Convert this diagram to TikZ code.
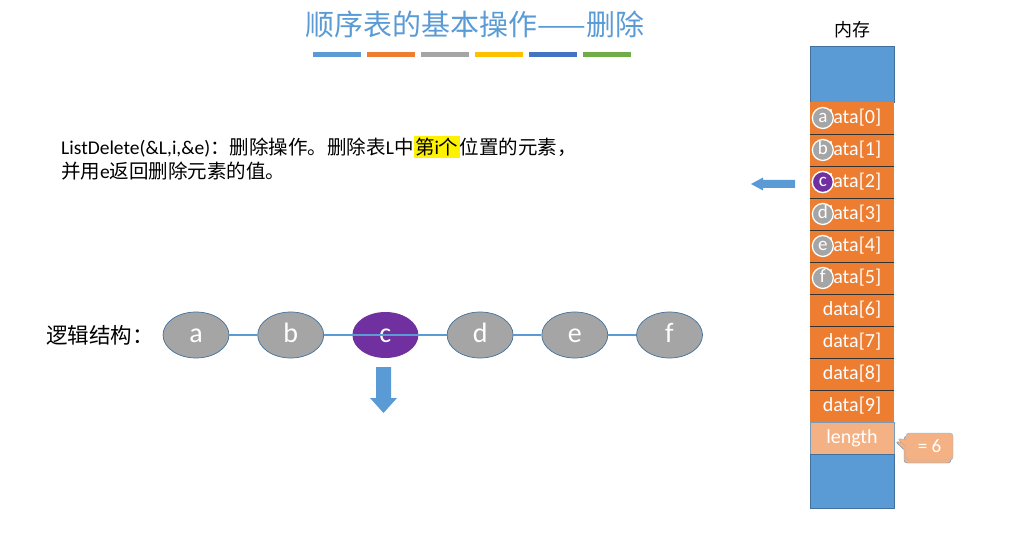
\documentclass[tikz,border=0pt]{standalone}
\usepackage{fontspec}
\setmainfont{Carlito}
\newfontfamily\cjk{Noto Sans CJK SC}
\usetikzlibrary{arrows.meta,positioning,shapes.geometric,shapes.callouts,shadows}
\definecolor{pptblue}{HTML}{5B9BD5}
\definecolor{pptorange}{HTML}{ED7D31}
\definecolor{pptgray}{HTML}{A5A5A5}
\definecolor{pptyellow}{HTML}{FFC000}
\definecolor{pptdarkblue}{HTML}{4472C4}
\definecolor{pptgreen}{HTML}{70AD47}
\definecolor{pptpurple}{HTML}{7030A0}
\definecolor{pptlight}{HTML}{F4B183}
\definecolor{pptedge}{HTML}{41719C}
\setlength{\fboxsep}{1.5pt}

\begin{document}
\begin{tikzpicture}[
    x=1pt, y=-1pt,
    txt/.style={font=\fontsize{19.5}{24}\selectfont, inner sep=0pt, anchor=west},
    elem/.style={ellipse, fill=pptgray, draw=pptedge, line width=0.7pt,
      minimum width=66pt, minimum height=46pt, inner sep=0pt,
      text height=15pt, text depth=0pt,
      text=white, font=\fontsize{28}{28}\selectfont},
    cur/.style={elem, fill=pptpurple, draw=none},
    link/.style={draw=pptblue, line width=1.6pt},
    cell/.style={rectangle, fill=pptorange, minimum width=84pt, minimum height=32pt,
      inner sep=0pt, text=white, font=\fontsize{20}{20}\selectfont},
    memdot/.style={circle, fill=pptgray, draw=white, line width=1.3pt,
      minimum size=21pt, inner sep=0pt, text height=9.5pt, text depth=0pt,
      text=white, font=\fontsize{19}{19}\selectfont},
    note/.style={rectangle callout, rounded corners=3pt, fill=pptlight, draw=pptblue!70,
      minimum width=47pt, minimum height=27pt, text=white,
      font=\fontsize{19}{19}\selectfont,
      copy shadow={shadow xshift=-2pt, shadow yshift=-3pt, fill=pptlight, draw=pptedge!80}}
  ]
    \useasboundingbox (0,0) rectangle (1011,537);

    % title and colour bars
    \node[text=pptblue, font=\cjk\fontsize{29}{29}\selectfont] (title) at (475,24) {顺序表的基本操作——删除};
    \foreach \c [count=\k] in {pptblue,pptorange,pptgray,pptyellow,pptdarkblue,pptgreen}
      \fill[\c] (313+54*\k-54,52) rectangle ++(48,5);

    % operation text
    \node[txt] (op1) at (61,147) {ListDelete(\&L,i,\&e){\cjk：删除操作。删除表}L{\cjk 中}\colorbox{yellow}{{\cjk 第}i{\cjk 个}}{\cjk 位置的元素，}};
    \node[txt] (op2) at (61,171) {{\cjk 并用}e{\cjk 返回删除元素的值。}};

    % logical structure
    \node[font=\cjk\fontsize{21.5}{22}\selectfont, anchor=west, inner sep=0pt] (logic) at (46,335) {逻辑结构：};
    \node[elem] (a) at (196,335) {a};
    \node[elem, right=28pt of a] (b) {b};
    \node[cur, right=28pt of b] (c) {c};
    \node[elem, right=28pt of c] (d) {d};
    \node[elem, right=28pt of d] (e) {e};
    \node[elem, right=28pt of e] (f) {f};
    \draw[link] (a) -- (b);
    \draw[link] (b) -- (d);
    \draw[link] (d) -- (e);
    \draw[link] (e) -- (f);
    \fill[pptblue] (376,367) -- (391,367) -- (391,398) -- (397,398) -- (383.5,413)
      -- (370,398) -- (376,398) -- cycle;

    % memory
    \node[font=\cjk\fontsize{18}{18}\selectfont] (mem) at (852,30) {内存};
    \filldraw[fill=pptblue, draw=pptedge, line width=0.5pt] (810,46) rectangle (894,102);
    \foreach \i in {0,...,9}
      \node[cell] (cell\i) at (852,118+32*\i) {data[\i]};
    \foreach \i in {0,...,8}
      \draw[black!80, line width=0.6pt] (cell\i.south west) -- (cell\i.south east);
    \node[cell, fill=pptlight, draw=pptedge!70, line width=0.5pt, below=0pt of cell9] (len) {length};
    \filldraw[fill=pptblue, draw=pptedge, line width=0.5pt] (810,454) rectangle (894,508);
    \foreach \v [count=\i from 0] in {a,b,c,d,e,f}
      \node[memdot, xshift=13pt] (m\i) at (cell\i.west) {\v};
    \node[memdot, fill=pptpurple, xshift=13pt] at (cell2.west) {c};
    \fill[pptblue] (795,180) -- (763,180) -- (763,177.5) -- (751,184) -- (763,190.5)
      -- (763,188) -- (795,188) -- cycle;
    \coordinate[right=3pt of len.east] (lentip);
    \node[note, callout absolute pointer=(lentip)] (lenval) at (929.5,446.5) {= 6};
  \end{tikzpicture}
\end{document}
